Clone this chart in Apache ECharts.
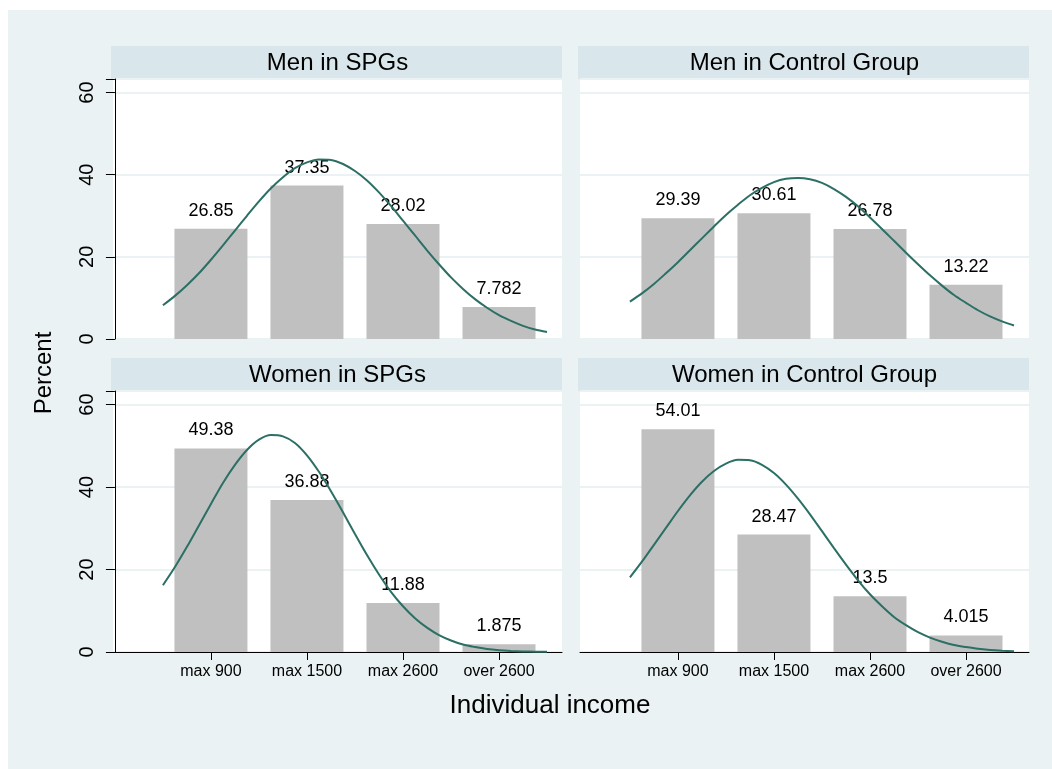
<!DOCTYPE html>
<html>
<head>
<meta charset="utf-8">
<script src="https://cdn.jsdelivr.net/npm/echarts@6/dist/echarts.min.js"></script>
<style>
  html, body { margin: 0; padding: 0; background: #fff; }
  #chart { width: 1052px; height: 769px; }
</style>
</head>
<body>
<div id="chart"></div>
<script>
var categories = ['max 900', 'max 1500', 'max 2600', 'over 2600'];
var catX = [1, 2, 3, 4];
var panelTitles = ['Men in SPGs', 'Men in Control Group', 'Women in SPGs', 'Women in Control Group'];

// bar heights (percent)
var menSPG = [26.85, 37.35, 28.02, 7.782];
var menCtrl = [29.39, 30.61, 26.78, 13.22];
var womenSPG = [49.38, 36.88, 11.88, 1.875];
var womenCtrl = [54.01, 28.47, 13.5, 4.015];

// normal density overlay
var curveX = [0.5, 0.625, 0.75, 0.875, 1, 1.125, 1.25, 1.375, 1.5, 1.625, 1.75, 1.875, 2, 2.125, 2.25, 2.375,
              2.5, 2.625, 2.75, 2.875, 3, 3.125, 3.25, 3.375, 3.5, 3.625, 3.75, 3.875, 4, 4.125, 4.25, 4.375, 4.5];
var menSPGCurve = [8.2, 10.5, 13.1, 16.0, 19.3, 22.8, 26.4, 30.0, 33.5, 36.7, 39.4, 41.6, 43.0, 43.7, 43.6, 42.6,
                   40.9, 38.6, 35.7, 32.4, 28.8, 25.2, 21.6, 18.2, 15.0, 12.2, 9.7, 7.6, 5.8, 4.4, 3.2, 2.3, 1.7];
var menCtrlCurve = [9.1, 11.1, 13.4, 16.0, 18.7, 21.6, 24.5, 27.4, 30.2, 32.7, 35.0, 36.8, 38.2, 39.0, 39.2, 38.9,
                    38.0, 36.5, 34.6, 32.3, 29.6, 26.8, 23.9, 21.0, 18.2, 15.5, 13.0, 10.7, 8.8, 7.0, 5.5, 4.3, 3.3];
var womenSPGCurve = [16.2, 20.6, 25.5, 30.7, 35.9, 41.0, 45.4, 49.0, 51.5, 52.6, 52.3, 50.7, 47.7, 43.7, 39.0, 33.9,
                     28.6, 23.5, 18.8, 14.6, 11.1, 8.2, 5.9, 4.1, 2.8, 1.8, 1.2, 0.74, 0.45, 0.27, 0.15, 0.09, 0.05];
var womenCtrlCurve = [18.1, 21.9, 26.0, 30.1, 34.2, 38.0, 41.3, 43.9, 45.7, 46.6, 46.5, 45.4, 43.4, 40.6, 37.2, 33.4,
                      29.3, 25.2, 21.2, 17.4, 14.0, 11.1, 8.5, 6.5, 4.8, 3.5, 2.5, 1.7, 1.2, 0.77, 0.5, 0.32, 0.2];

var yTicks = [0, 20, 40, 60];

var bars = [menSPG, menCtrl, womenSPG, womenCtrl];
var curves = [menSPGCurve, menCtrlCurve, womenSPGCurve, womenCtrlCurve];

var FONT = 'Liberation Sans, Arial, Helvetica, sans-serif';
var BG = '#EAF2F3';
var STRIP = '#D9E6EB';

var chart = echarts.init(document.getElementById('chart'), null, { renderer: 'canvas' });

var boxes = [
    { left: 113, top: 79, width: 449, height: 260 },
    { left: 580, top: 79, width: 449, height: 260 },
    { left: 113, top: 391, width: 449, height: 261 },
    { left: 580, top: 391, width: 449, height: 261 }
];

var grids = [], xAxes = [], yAxes = [], series = [];
var graphics = [
    { type: 'rect', z: -10, shape: { x: 8, y: 10, width: 1044, height: 759 }, style: { fill: BG } },
    { type: 'text', x: 44, y: 373, rotation: Math.PI / 2,
      style: { text: 'Percent', font: '24px ' + FONT, fill: '#000', align: 'center', verticalAlign: 'middle' } },
    { type: 'text', x: 550, y: 706,
      style: { text: 'Individual income', font: '26px ' + FONT, fill: '#000', align: 'center', verticalAlign: 'middle' } }
];

boxes.forEach(function (b, i) {
    var bottomRow = i >= 2;
    var leftCol = i % 2 === 0;
    grids.push({ left: b.left, top: b.top, width: b.width, height: b.height,
        show: true, backgroundColor: '#fff', borderWidth: 0 });

    graphics.push({ type: 'rect', shape: { x: b.left - 2, y: b.top - 33, width: b.width + 2, height: 33 },
        style: { fill: STRIP } });
    graphics.push({ type: 'text', x: b.left + b.width / 2, y: b.top - 16,
        style: { text: panelTitles[i], font: '24px ' + FONT, fill: '#000', align: 'center', verticalAlign: 'middle' } });

    xAxes.push({
        type: 'value', gridIndex: i, min: -0.02, max: 4.656,
        axisLine: { show: bottomRow, onZero: false, lineStyle: { color: '#000', width: 1 } },
        axisTick: { show: bottomRow, customValues: catX, length: 8, lineStyle: { color: '#000' } },
        axisLabel: { show: bottomRow, customValues: catX, margin: 12, fontFamily: FONT, fontSize: 16, color: '#000',
            formatter: function (v) { return categories[catX.indexOf(v)]; } },
        splitLine: { show: false }
    });

    yAxes.push({
        type: 'value', gridIndex: i, min: 0, max: 63.3, interval: 20,
        axisLine: { show: leftCol, lineStyle: { color: '#000', width: 1 } },
        axisTick: { show: leftCol, length: 9, lineStyle: { color: '#000' } },
        axisLabel: { show: leftCol, rotate: 90, margin: 16, fontFamily: FONT, fontSize: 20, color: '#000',
            customValues: yTicks },
        splitLine: { show: true, lineStyle: { color: BG, width: 2 } }
    });
});

bars.forEach(function (vals, i) {
    series.push({
        type: 'bar', xAxisIndex: i, yAxisIndex: i, barWidth: 73,
        itemStyle: { color: '#C0C0C0' },
        label: { show: true, position: 'top', distance: 9, fontFamily: FONT, fontSize: 18, color: '#000',
            formatter: function (p) { return String(p.value[1]); } },
        data: vals.map(function (v, k) { return [catX[k], v]; }),
        z: 2
    });
    series.push({
        type: 'line', xAxisIndex: i, yAxisIndex: i, smooth: 0.3, showSymbol: false,
        lineStyle: { color: '#2B6F65', width: 2 },
        data: curves[i].map(function (v, k) { return [curveX[k], v]; }),
        z: 3
    });
});

chart.setOption({
    backgroundColor: '#fff',
    animation: false,
    grid: grids,
    xAxis: xAxes,
    yAxis: yAxes,
    series: series,
    graphic: graphics
});
</script>
</body>
</html>
